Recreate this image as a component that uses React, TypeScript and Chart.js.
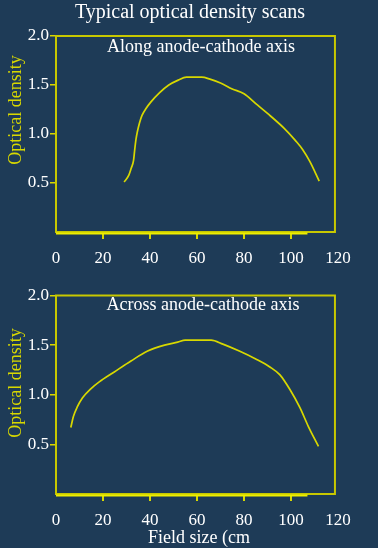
import React, { useEffect, useRef } from 'react';
import { Chart, registerables } from 'chart.js';

Chart.register(...registerables);

const MAIN_TITLE = 'Typical optical density scans';
const X_TITLE = 'Field size (cm';
const Y_TITLE = 'Optical density';
const ALONG_TITLE = 'Along anode-cathode axis';
const ACROSS_TITLE = 'Across anode-cathode axis';

const X_TICKS = [0, 20, 40, 60, 80, 100, 120];
const Y_TICKS = [0, 0.5, 1.0, 1.5, 2.0];

const alongX = [29, 31, 32, 33, 33.5, 34, 34.6, 35.5, 36.6, 38.3, 40.5, 44, 48, 52, 55.5, 62, 65.5, 70, 75, 80, 85, 90, 97, 102, 105, 108, 112];
const alongY = [0.51, 0.58, 0.65, 0.73, 0.84, 0.94, 1.02, 1.11, 1.19, 1.26, 1.33, 1.42, 1.5, 1.55, 1.58, 1.58, 1.56, 1.52, 1.46, 1.41, 1.31, 1.21, 1.06, 0.93, 0.84, 0.72, 0.52];

const acrossX = [6.3, 7.4, 9.1, 11.3, 14.8, 18.4, 24.8, 31.9, 39, 46.2, 51.8, 55, 66, 71, 78, 85, 91, 95.3, 99.6, 103.8, 107.4, 111.7];
const acrossY = [0.67, 0.78, 0.88, 0.97, 1.06, 1.13, 1.23, 1.34, 1.44, 1.5, 1.53, 1.55, 1.55, 1.51, 1.44, 1.36, 1.28, 1.2, 1.05, 0.87, 0.68, 0.48];

const BG = '#1e3b57';
const LINE = '#d8d800';
const BOX = '#c8c800';
const AXIS = '#eeee00';
const TICK = '#d8d800';
const WHITE = '#ffffff';
const FONT = '"Liberation Serif", "Times New Roman", serif';

const decorPlugin = {
  id: 'decor',
  afterDraw(chart: any, _args: any, opts: any) {
    const { ctx, chartArea: a, scales } = chart;
    const x = scales.x;
    ctx.save();
    ctx.strokeStyle = BOX;
    ctx.lineWidth = 2;
    const r = x.getPixelForValue(opts.boxRight);
    ctx.strokeRect(a.left, a.top, r - a.left, a.bottom - a.top);
    ctx.strokeStyle = AXIS;
    ctx.lineWidth = 2;
    ctx.beginPath();
    ctx.moveTo(x.getPixelForValue(0), a.bottom + 1.5);
    ctx.lineTo(x.getPixelForValue(opts.axisEnd), a.bottom + 1.5);
    ctx.stroke();
    ctx.fillStyle = WHITE;
    ctx.font = `18px ${FONT}`;
    ctx.textAlign = 'center';
    ctx.textBaseline = 'alphabetic';
    ctx.fillText(opts.subtitle, opts.subX, a.top + opts.subDy);
    ctx.save();
    ctx.translate(opts.yTitleX, opts.yTitleY);
    ctx.rotate(-Math.PI / 2);
    ctx.fillStyle = LINE;
    ctx.font = `18px ${FONT}`;
    ctx.textAlign = 'center';
    ctx.textBaseline = 'alphabetic';
    ctx.fillText(Y_TITLE, 0, 0);
    ctx.restore();
    if (opts.mainTitle) {
      ctx.fillStyle = WHITE;
      ctx.font = `20px ${FONT}`;
      ctx.textAlign = 'center';
      ctx.fillText(opts.mainTitle, opts.mainX, opts.mainY);
    }
    if (opts.xTitle) {
      ctx.fillStyle = WHITE;
      ctx.font = `18px ${FONT}`;
      ctx.textAlign = 'center';
      ctx.fillText(opts.xTitle, opts.xTitleX, opts.xTitleY);
    }
    ctx.restore();
  },
};

function makeConfig(xs: number[], ys: number[], p: any) {
  return {
    type: 'line',
    data: {
      datasets: [
        {
          data: xs.map((v, i) => ({ x: v, y: ys[i] })),
          borderColor: LINE,
          borderWidth: 1.7,
          pointRadius: 0,
          cubicInterpolationMode: 'monotone',
          fill: false,
        },
      ],
    },
    options: {
      animation: false,
      responsive: false,
      layout: { padding: { top: p.top, left: 0, right: 40, bottom: 0 } },
      plugins: {
        legend: { display: false },
        tooltip: { enabled: false },
        title: { display: false },
        decor: p.decor,
      },
      scales: {
        x: {
          type: 'linear',
          min: 0,
          max: 120,
          afterBuildTicks: (s: any) => {
            s.ticks = X_TICKS.map((v) => ({ value: v }));
          },
          afterFit: (s: any) => {
            s.height = p.xHeight;
          },
          border: { display: false },
          grid: {
            drawOnChartArea: false,
            drawTicks: true,
            tickLength: 7,
            lineWidth: 2,
            color: (c: any) => (c.tick && c.tick.value > 0 && c.tick.value < 120 ? TICK : 'rgba(0,0,0,0)'),
          },
          ticks: {
            color: WHITE,
            font: { family: FONT, size: 17 },
            padding: 9,
            maxRotation: 0,
            autoSkip: false,
            callback: (v: any) => String(v),
          },
        },
        y: {
          type: 'linear',
          min: 0,
          max: 2,
          afterBuildTicks: (s: any) => {
            s.ticks = Y_TICKS.map((v) => ({ value: v }));
          },
          afterFit: (s: any) => {
            s.width = 56;
          },
          border: { display: false },
          grid: {
            drawOnChartArea: false,
            drawTicks: true,
            tickLength: 6,
            lineWidth: 1.5,
            color: (c: any) => (c.tick && c.tick.value > 0 ? TICK : 'rgba(0,0,0,0)'),
          },
          ticks: {
            color: WHITE,
            font: { family: FONT, size: 17 },
            padding: 1,
            autoSkip: false,
            callback: (v: any) => (v === 0 ? '' : Number(v).toFixed(1)),
          },
        },
      },
    },
    plugins: [decorPlugin],
  } as any;
}

function ChartCanvas({ config, width, height, top }: any) {
  const ref = useRef<HTMLCanvasElement | null>(null);
  useEffect(() => {
    if (!ref.current) return;
    const chart = new Chart(ref.current, config);
    return () => chart.destroy();
  }, []);
  return (
    <canvas
      ref={ref}
      width={width}
      height={height}
      style={{ position: 'absolute', left: 0, top, width, height }}
    />
  );
}

export default function App() {
  const topConfig = makeConfig(alongX, alongY, {
    top: 36,
    xHeight: 43,
    decor: {
      boxRight: 118.7,
      axisEnd: 107,
      subtitle: ALONG_TITLE,
      subX: 201,
      subDy: 16,
      yTitleX: 21,
      yTitleY: 110,
      mainTitle: MAIN_TITLE,
      mainX: 190,
      mainY: 18,
    },
  });
  const bottomConfig = makeConfig(acrossX, acrossY, {
    top: 20.5,
    xHeight: 54,
    decor: {
      boxRight: 118.7,
      axisEnd: 107,
      subtitle: ACROSS_TITLE,
      subX: 203,
      subDy: 14.5,
      yTitleX: 21,
      yTitleY: 108,
      xTitle: X_TITLE,
      xTitleX: 199,
      xTitleY: 268,
    },
  });
  return (
    <div
      style={{
        position: 'absolute',
        left: 0,
        top: 0,
        width: 378,
        height: 548,
        background: BG,
        overflow: 'hidden',
      }}
    >
      <ChartCanvas config={topConfig} width={378} height={275} top={0} />
      <ChartCanvas config={bottomConfig} width={378} height={273} top={275} />
    </div>
  );
}
